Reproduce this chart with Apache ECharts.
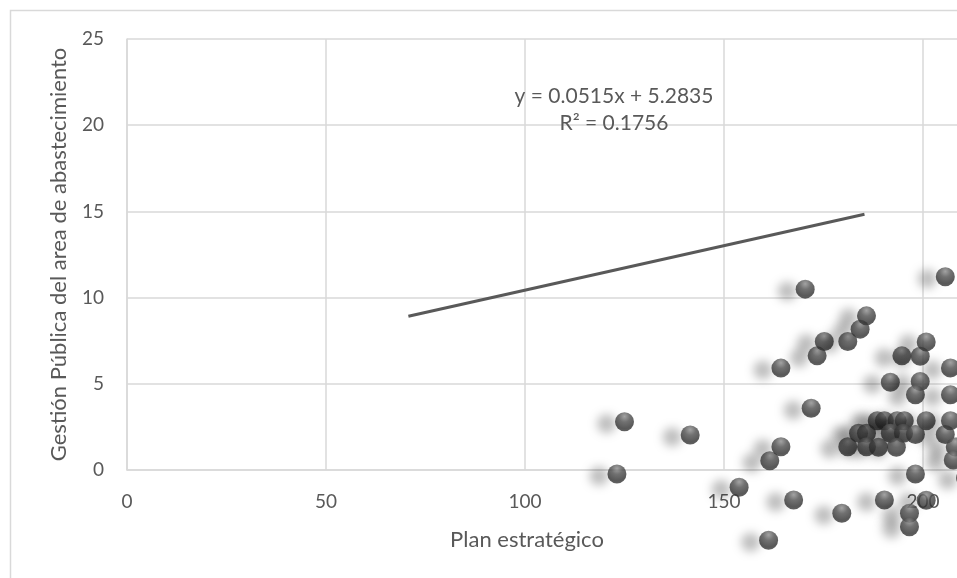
<!DOCTYPE html>
<html>
<head>
<meta charset="utf-8">
<title>Plan estratégico vs Gestión Pública</title>
<script src="https://cdn.jsdelivr.net/npm/echarts@6/dist/echarts.min.js"></script>
<style>
  html, body { margin: 0; padding: 0; background: #fff; }
  #scatterChart { width: 957px; height: 578px; }
</style>
</head>
<body>
<div id="scatterChart"></div>
<script>
// valores (x = Plan estratégico, y = Gestión Pública)
const planX = [
  125.0, 141.5, 123.1, 153.8, 161.5, 161.2, 164.3, 164.3, 170.4, 171.9,
  167.5, 173.4, 175.2, 181.1, 184.2, 185.8, 179.6, 181.1, 183.8, 185.8,
  185.8, 188.8, 188.5, 190.3, 193.5, 195.3, 191.8, 195.1, 193.3, 191.8,
  194.7, 199.3, 200.8, 199.3, 198.1, 200.8, 198.1, 198.1, 190.3, 200.8,
  196.6, 196.6, 205.6, 205.6, 206.9, 206.9, 206.9, 208.1, 207.6, 211.4,
  210.7
]
const gestionY = [
  2.80, 2.03, -0.23, -1.00, 0.54, -4.07, 1.35, 5.91, 10.49, 3.58,
  -1.74, 6.62, 7.45, 7.45, 8.17, 8.94, -2.51, 1.35, 2.13, 2.13,
  1.35, 1.32, 2.86, 2.86, 2.86, 2.86, 2.13, 2.13, 1.32, 5.09,
  6.62, 6.60, 7.43, 5.13, 4.36, 2.86, 2.06, -0.23, -1.74, -1.76,
  -2.51, -3.29, 11.21, 2.06, 5.92, 4.36, 2.86, 1.34, 0.58, 8.19,
  -0.46
]
// linea de tendencia (extremos)
const trendX = [70.7, 185.3]
const trendY = [8.92, 14.83]
const xTicks = [0, 250, 50]   // min, max, intervalo
const yTicks = [0, 25, 5]

const textColor = '#595959'
const gridColor = '#d9d9d9'
const fontName = 'Lato'

let points = planX.map((x, i) => [x, gestionY[i]])
let trend = trendX.map((x, i) => [x, trendY[i]])

let myChart = echarts.init(document.getElementById('scatterChart'))
let options = {
  animation: false,
  backgroundColor: '#fff',
  textStyle: { fontFamily: fontName },
  grid: {
    left: 127,
    top: 39,
    width: 995,
    height: 431,
    containLabel: false,
    outerBoundsMode: 'none'
  },
  graphic: [
    // borde del area del grafico
    {
      type: 'rect',
      shape: { x: 10.5, y: 10.5, width: 1200, height: 900 },
      style: { fill: 'none', stroke: gridColor, lineWidth: 1.5 },
      silent: true
    },
    {
      type: 'text',
      x: 527,
      y: 540,
      style: {
        text: 'Plan estratégico',
        fill: textColor,
        font: '22px ' + fontName,
        align: 'center',
        verticalAlign: 'middle'
      }
    },
    // ecuacion de la tendencia
    {
      type: 'text',
      x: 614,
      y: 110,
      z: 10,
      style: {
        text: 'y = 0.0515x + 5.2835\nR² = 0.1756',
        fill: textColor,
        font: '21px ' + fontName,
        lineHeight: 27,
        align: 'center',
        verticalAlign: 'middle'
      }
    }
  ],
  xAxis: {
    type: 'value',
    min: xTicks[0],
    max: xTicks[1],
    interval: xTicks[2],
    axisLine: { show: true, lineStyle: { color: gridColor, width: 1.5 } },
    axisTick: { show: false },
    axisLabel: { color: textColor, fontSize: 19, margin: 22, fontFamily: fontName },
    splitLine: { lineStyle: { color: gridColor, width: 1.5 } }
  },
  yAxis: {
    type: 'value',
    min: yTicks[0],
    max: yTicks[1],
    interval: yTicks[2],
    name: 'Gestión Pública del area de abastecimiento',
    nameLocation: 'middle',
    nameGap: 57,
    nameTextStyle: { color: textColor, fontSize: 22, fontFamily: fontName },
    axisLine: { show: true, lineStyle: { color: gridColor, width: 1.5 } },
    axisTick: { show: false },
    axisLabel: { color: textColor, fontSize: 19, margin: 23, fontFamily: fontName },
    splitLine: { lineStyle: { color: gridColor, width: 1.5 } }
  },
  series: [
    {
      type: 'line',
      data: trend,
      symbol: 'none',
      z: 3,
      lineStyle: { color: textColor, width: 3 }
    },
    {
      type: 'scatter',
      data: points,
      clip: false,
      symbol: 'circle',
      symbolSize: 19,
      z: 4,
      itemStyle: {
        // esfera gris oscura con sombra difusa
        color: new echarts.graphic.RadialGradient(0.5, 0.22, 0.85, [
          { offset: 0, color: '#8c8c8c' },
          { offset: 0.35, color: '#4e4e4e' },
          { offset: 0.75, color: '#2f2f2f' },
          { offset: 1, color: '#3e3e3e' }
        ]),
        shadowColor: 'rgba(0, 0, 0, 0.32)',
        shadowBlur: 10,
        shadowOffsetX: -18,
        shadowOffsetY: 2
      }
    }
  ]
}
myChart.setOption(options)
</script>
</body>
</html>
